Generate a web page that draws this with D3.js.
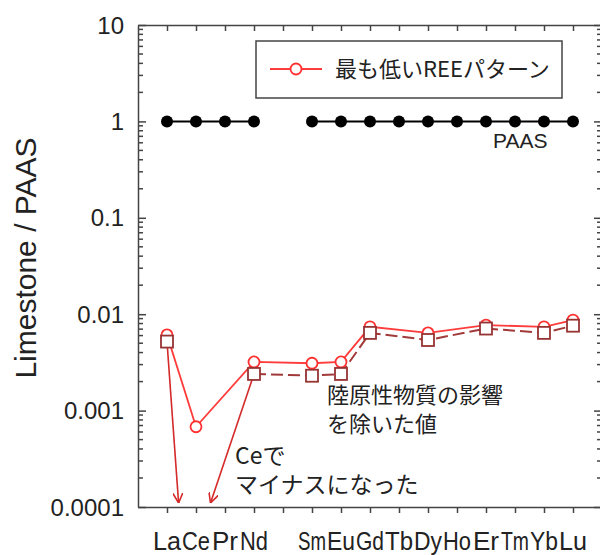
<!DOCTYPE html>
<html>
  <head>
    <meta charset="utf-8">
    <title>Limestone / PAAS</title>
    <script src="https://d3js.org/d3.v7.min.js"></script>
    <style>
      body { margin: 0; background: white; }
      svg text { font-family: "Liberation Sans", Arial, sans-serif; fill: #222; }
      .jp { font-family: "Noto Sans CJK JP", sans-serif !important; }
      .axis path, .axis line { stroke: #444; stroke-width: 1.5; }
    </style>
  </head>
  <body>
    <script>
      var elements = ["La","Ce","Pr","Nd","Pm","Sm","Eu","Gd","Tb","Dy","Ho","Er","Tm","Yb","Lu"];
      var elementLabels = ["La","Ce","Pr","Nd","","Sm","Eu","Gd","Tb","Dy","Ho","Er","Tm","Yb","Lu"];
      var paas = [1,1,1,1,null,1,1,1,1,1,1,1,1,1,1];
      var lowest = [0.0061,0.00068,null,0.0032,null,0.0031,0.0032,0.0074,null,0.0064,null,0.0077,null,0.0074,0.0087];
      var corrected = [0.0052,null,null,0.0024,null,0.0023,0.0024,0.0064,null,0.0054,null,0.0071,null,0.0064,0.0076];
      var yTicks = [0.0001,0.001,0.01,0.1,1,10];
      var yTickLabels = ["0.0001","0.001","0.01","0.1","1","10"];
      // Ce negative: arrows from these points down to the axis, at fractional element index
      var arrowFrom = ["La","Nd"];
      var arrowTo = [0.4, 1.5];

      var width = 600;
      var height = 555;
      var margin = {top: 25, left: 138, right: -2, bottom: 48};

      var svg = d3.select("body")
        .append("svg")
        .attr("width", width)
        .attr("height", height);

      var xScale = d3.scalePoint()
        .domain(elements)
        .range([margin.left, width - margin.right])
        .padding(1);

      var yScale = d3.scaleLog()
        .domain([0.0001, 10])
        .range([height - margin.bottom, margin.top]);

      var step = xScale.step();
      var minorTicks = yScale.ticks().filter(function(t){ return yTicks.indexOf(t) < 0; });

      // frame + ticks
      svg.append("g")
        .attr("class","axis")
        .attr("transform",`translate(0,${height-margin.bottom})`)
        .call(d3.axisBottom(xScale).tickSize(6).tickSizeOuter(0).tickFormat(""));

      svg.append("g")
        .attr("class","axis")
        .attr("transform",`translate(0,${margin.top})`)
        .call(d3.axisTop(xScale).tickSize(-6).tickSizeOuter(0).tickFormat(""));

      var left = svg.append("g")
        .attr("class","axis")
        .attr("transform",`translate(${margin.left},0)`)
        .call(d3.axisLeft(yScale).tickValues(yTicks).tickSize(-8).tickSizeOuter(0).tickFormat(""));
      left.selectAll(".minor")
        .data(minorTicks)
        .enter()
        .append("line")
          .attr("x1", 0).attr("x2", 5)
          .attr("y1", function(d){ return yScale(d); })
          .attr("y2", function(d){ return yScale(d); });

      var right = svg.append("g")
        .attr("class","axis")
        .attr("transform",`translate(${width - margin.right},0)`)
        .call(d3.axisRight(yScale).tickValues(yTicks).tickSize(-8).tickSizeOuter(0).tickFormat(""));
      right.selectAll(".minor")
        .data(minorTicks)
        .enter()
        .append("line")
          .attr("x1", 0).attr("x2", -5)
          .attr("y1", function(d){ return yScale(d); })
          .attr("y2", function(d){ return yScale(d); });

      // tick labels
      svg.selectAll(".ylab")
        .data(yTicks)
        .enter()
        .append("text")
          .attr("x", margin.left - 14)
          .attr("y", function(d){ return yScale(d); })
          .attr("dy", "0.36em")
          .attr("text-anchor", "end")
          .style("font-size", "24px")
          .text(function(d, i){ return yTickLabels[i]; });

      // element labels are packed tight in the original, squeeze the wide ones a bit
      svg.selectAll(".xlab")
        .data(elements)
        .enter()
        .append("text")
          .attr("x", function(d){ return xScale(d); })
          .attr("y", 550)
          .attr("text-anchor", "middle")
          .style("font-size", "26px")
          .text(function(d, i){ return elementLabels[i]; })
          .each(function(){
            if (this.getComputedTextLength() > step - 1) {
              d3.select(this)
                .attr("textLength", step - 1)
                .attr("lengthAdjust", "spacingAndGlyphs");
            }
          });

      svg.append("text")
        .attr("transform","rotate(-90)")
        .attr("x", -258)
        .attr("y", 36)
        .attr("text-anchor","middle")
        .style("font-size","30px")
        .text("Limestone / PAAS");

      // PAAS reference
      var paasData = elements.map(function(e, i){ return {x: e, y: paas[i]}; });
      svg.append("path")
        .datum(paasData)
        .attr("fill","none")
        .attr("stroke","#000")
        .attr("stroke-width",2)
        .attr("d", d3.line()
          .defined(function(d){ return d.y != null; })
          .x(function(d){ return xScale(d.x); })
          .y(function(d){ return yScale(d.y); }));
      svg.selectAll(".paas")
        .data(paasData.filter(function(d){ return d.y != null; }))
        .enter()
        .append("circle")
          .attr("cx", function(d){ return xScale(d.x); })
          .attr("cy", function(d){ return yScale(d.y); })
          .attr("r", 6)
          .attr("fill", "#000");

      svg.append("text")
        .attr("x", 493)
        .attr("y", 148)
        .style("font-size","21px")
        .text("PAAS");

      // corrected values (squares, dashed)
      var corrData = elements.map(function(e, i){ return {x: e, y: corrected[i]}; })
        .filter(function(d){ return d.y != null; });
      var lineGen = d3.line()
        .x(function(d){ return xScale(d.x); })
        .y(function(d){ return yScale(d.y); });

      svg.append("path")
        .datum(corrData.slice(1))
        .attr("fill","none")
        .attr("stroke","#a23a3a")
        .attr("stroke-width",2)
        .attr("stroke-dasharray","12,5")
        .attr("d", lineGen);

      // arrows: Ce went negative
      svg.append("defs").append("marker")
        .attr("id","arr")
        .attr("viewBox","0 0 10 10")
        .attr("refX",10).attr("refY",5)
        .attr("markerWidth",10).attr("markerHeight",10)
        .attr("markerUnits","userSpaceOnUse")
        .attr("orient","auto")
        .append("path")
          .attr("d","M0,0L10,5L0,10")
          .attr("fill","none")
          .attr("stroke","#d42a2a")
          .attr("stroke-width",1.6);

      svg.selectAll(".arrow")
        .data(arrowFrom)
        .enter()
        .append("line")
          .attr("x1", function(d){ return xScale(d); })
          .attr("y1", function(d){ return yScale(corrected[elements.indexOf(d)]); })
          .attr("x2", function(d, i){ return xScale(elements[0]) + arrowTo[i] * step; })
          .attr("y2", yScale(0.0001) - 4)
          .attr("stroke","#d42a2a")
          .attr("stroke-width",1.6)
          .attr("marker-end","url(#arr)");

      // lowest pattern (circles)
      var lowData = elements.map(function(e, i){ return {x: e, y: lowest[i]}; })
        .filter(function(d){ return d.y != null; });
      svg.append("path")
        .datum(lowData)
        .attr("fill","none")
        .attr("stroke","#ff3c3c")
        .attr("stroke-width",1.8)
        .attr("d", lineGen);
      svg.selectAll(".low")
        .data(lowData)
        .enter()
        .append("circle")
          .attr("cx", function(d){ return xScale(d.x); })
          .attr("cy", function(d){ return yScale(d.y); })
          .attr("r", 5.5)
          .attr("fill","white")
          .attr("stroke","#ff3030")
          .attr("stroke-width",1.8);

      svg.selectAll(".sq")
        .data(corrData)
        .enter()
        .append("rect")
          .attr("x", function(d){ return xScale(d.x) - 6; })
          .attr("y", function(d){ return yScale(d.y) - 6; })
          .attr("width", 12)
          .attr("height", 12)
          .attr("fill","white")
          .attr("stroke","#973333")
          .attr("stroke-width",1.8);

      // annotations
      svg.append("text").attr("class","jp")
        .attr("x", 327).attr("y", 403)
        .style("font-size","22px")
        .text("陸原性物質の影響");
      svg.append("text").attr("class","jp")
        .attr("x", 327).attr("y", 432)
        .style("font-size","22px")
        .text("を除いた値");
      svg.append("text").attr("class","jp")
        .attr("x", 235).attr("y", 464)
        .style("font-size","23px")
        .text("Ceで");
      svg.append("text").attr("class","jp")
        .attr("x", 235).attr("y", 493)
        .style("font-size","23px")
        .text("マイナスになった");

      // legend
      var legend = svg.append("g").attr("transform","translate(256,41)");
      legend.append("rect")
        .attr("width", 306).attr("height", 57)
        .attr("fill","white")
        .attr("stroke","#444")
        .attr("stroke-width",1.5);
      legend.append("line")
        .attr("x1", 14).attr("x2", 66)
        .attr("y1", 28).attr("y2", 28)
        .attr("stroke","#ff3c3c").attr("stroke-width",1.8);
      legend.append("circle")
        .attr("cx", 40).attr("cy", 28).attr("r", 5.5)
        .attr("fill","white").attr("stroke","#ff3030").attr("stroke-width",1.8);
      legend.append("text").attr("class","jp")
        .attr("x", 79).attr("y", 36)
        .style("font-size","22px")
        .text("最も低いREEパターン");
    </script>
  </body>
</html>
